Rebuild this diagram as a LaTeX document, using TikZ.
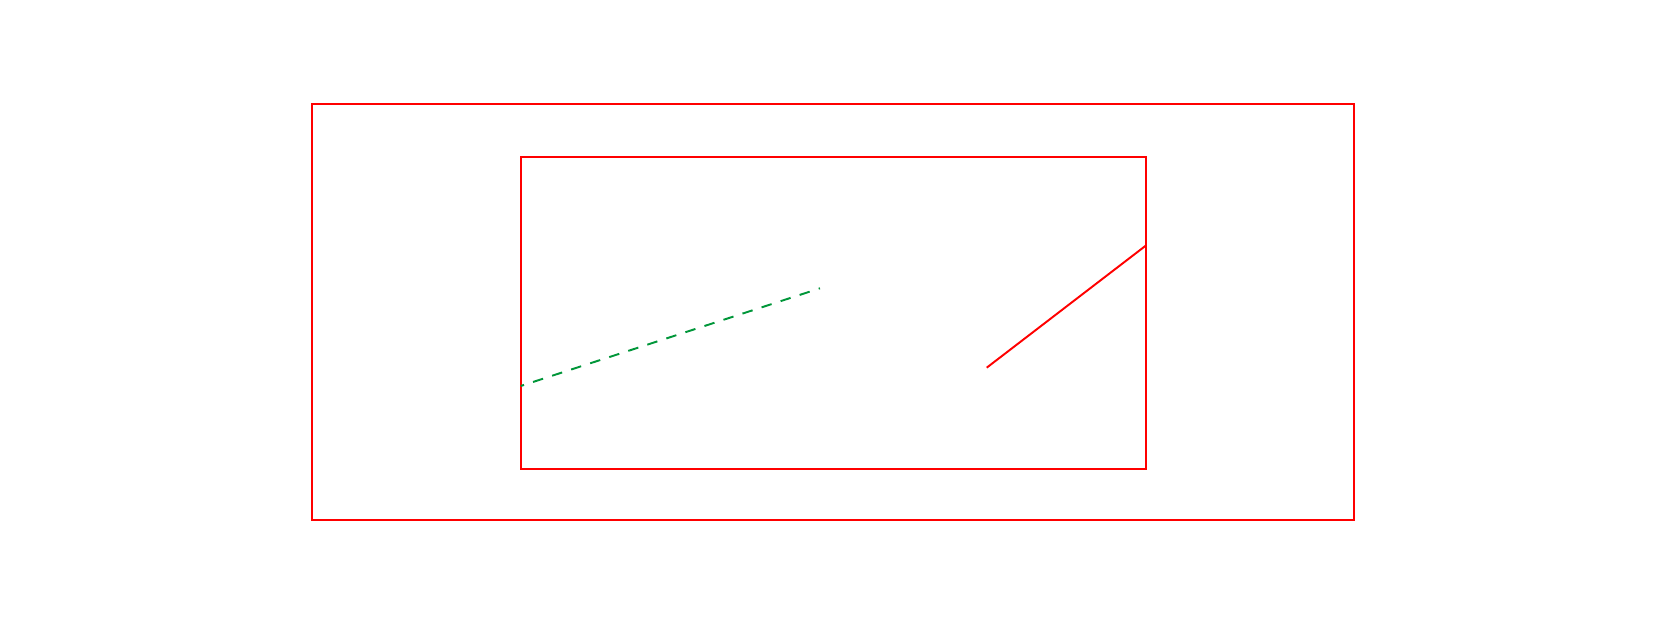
\documentclass[tikz,border=0pt]{standalone}
\definecolor{linegreen}{RGB}{0,150,57}
\begin{document}
\begin{tikzpicture}[x=0.02cm, y=0.02cm, line width=1.1pt]
      \useasboundingbox (0, 0) rectangle (1667, 625);
      \draw[red] (312.3, 104.7) rectangle (1354, 520.7);
      \draw[red] (520.7, 156.3) rectangle (1145.7, 468.3);
      \coordinate (g0) at (520.7, 239);
      \coordinate (g1) at (820, 336.7);
      \coordinate (r0) at (986.7, 257.3);
      \coordinate (r1) at (1145.7, 379.3);
      \draw[linegreen, dash pattern=on 6pt off 5.4pt, dash phase=4pt] (g0) -- (g1);
      \draw[red] (r0) -- (r1);
      \end{tikzpicture}
\end{document}
